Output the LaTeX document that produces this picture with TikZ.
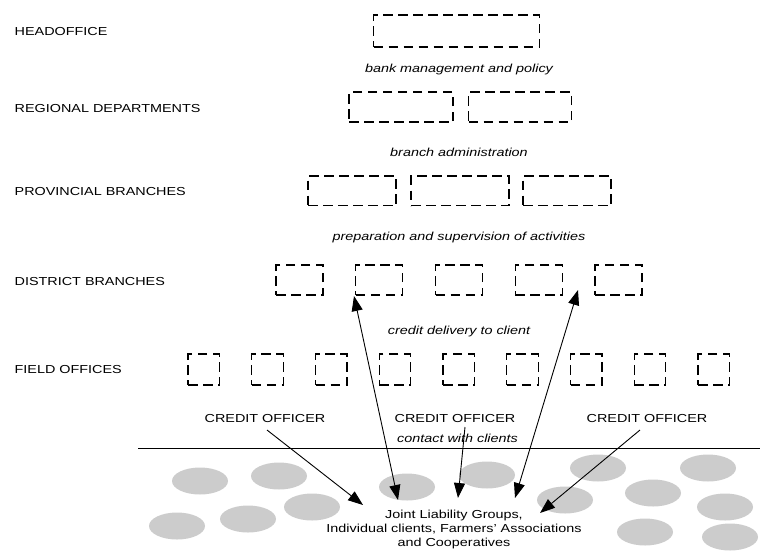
\documentclass[tikz,border=0pt]{standalone}
\usepackage{fontspec}
\setmainfont{Liberation Sans}[FakeStretch=1.24]
\usetikzlibrary{arrows.meta}
\definecolor{blobgray}{RGB}{204,204,204}
\newcommand{\fsz}{\fontsize{11.6}{13.8}\selectfont}
\tikzset{
  lvl/.style={anchor=base west, inner sep=0pt, font=\fsz},
  note/.style={anchor=base, inner sep=0pt, font=\fsz\itshape},
  officer/.style={anchor=base, inner sep=0pt, font=\fsz},
  dbox/.style={draw, line width=1.1pt, dash pattern=on 9.5pt off 5.5pt, inner sep=0pt},
  arr/.style={line width=0.9pt, -{Triangle[length=15pt,width=11pt]}},
  darr/.style={line width=0.9pt, {Triangle[length=15pt,width=11pt]}-{Triangle[length=15pt,width=11pt]}},
}
\begin{document}
\begin{tikzpicture}[x=1pt,y=-1pt]
\useasboundingbox[fill=white] (0,0) rectangle (760,550);

% level labels
\node[lvl] (lh) at (14.5,35.5) {HEADOFFICE};
\node[lvl] (lr) at (14.5,112) {REGIONAL DEPARTMENTS};
\node[lvl] (lp) at (14.5,195) {PROVINCIAL BRANCHES};
\node[lvl] (ld) at (14.5,285) {DISTRICT BRANCHES};
\node[lvl] (lf) at (14.5,373) {FIELD OFFICES};

% boxes
\node[dbox, minimum width=166pt, minimum height=32pt] (h) at (456.5,31) {};
\node[dbox, minimum width=104pt, minimum height=30pt] (r1) at (401,107) {};
\node[dbox, minimum width=103pt, minimum height=30pt] (r2) at (520,107) {};
\node[dbox, minimum width=88pt, minimum height=29.5pt] (p1) at (352,190.75) {};
\node[dbox, minimum width=98pt, minimum height=29.5pt] (p2) at (460,190.75) {};
\node[dbox, minimum width=88pt, minimum height=29.5pt] (p3) at (567,190.75) {};
\foreach \i in {1,...,5}
  \node[dbox, minimum width=47pt, minimum height=30pt] (d\i) at ({299.5+(\i-1)*79.75},280) {};
\foreach \i in {1,...,9}
  \node[dbox, minimum width=31.5pt, minimum height=31pt] (f\i) at ({203.75+(\i-1)*63.75},369.5) {};

% italic notes
\node[note] (n1) at (459,72.5) {bank management and policy};
\node[note] (n2) at (459,156) {branch administration};
\node[note] (n3) at (459,240) {preparation and supervision of activities};
\node[note] (n4) at (459,334.5) {credit delivery to client};
\node[note] (n5) at (457.5,442) {contact with clients};

% credit officers
\node[officer] (co1) at (265,422) {CREDIT OFFICER};
\node[officer] (co2) at (455,422) {CREDIT OFFICER};
\node[officer] (co3) at (647,422) {CREDIT OFFICER};

% ground line
\coordinate (gl) at (138,448);
\coordinate (gr) at (760,448);
\draw[line width=0.9pt] (gl) -- (gr);

% client blobs
\foreach \cx/\cy in {200/481, 279/476, 407/487, 312/507, 248/519, 177/526,
                     487/475, 598/468, 565/500, 653/493, 708/468, 725/507, 645/532, 730/537}
  \fill[blobgray] (\cx,\cy) ellipse [x radius=28, y radius=13.5];

% clients text (base = baseline of last line)
\node[anchor=base, inner sep=0pt, font=\fsz, align=center] (cl) at (454,546.5)
  {Joint Liability Groups,\\Individual clients, Farmers' Associations\\and Cooperatives};

% arrow end points
\coordinate (s1) at (267,430);
\coordinate (t1) at (363,505);
\coordinate (s2) at (354,296);
\coordinate (t2) at (398,500);
\coordinate (s3) at (465,427);
\coordinate (t3) at (458,498);
\coordinate (s4) at (578,290);
\coordinate (t4) at (515,498);
\coordinate (s5) at (640,430);
\coordinate (t5) at (540,513);

\draw[arr] (s1) -- (t1);
\draw[darr] (s2) -- (t2);
\draw[arr] (s3) -- (t3);
\draw[darr] (s4) -- (t4);
\draw[arr] (s5) -- (t5);
\end{tikzpicture}
\end{document}
